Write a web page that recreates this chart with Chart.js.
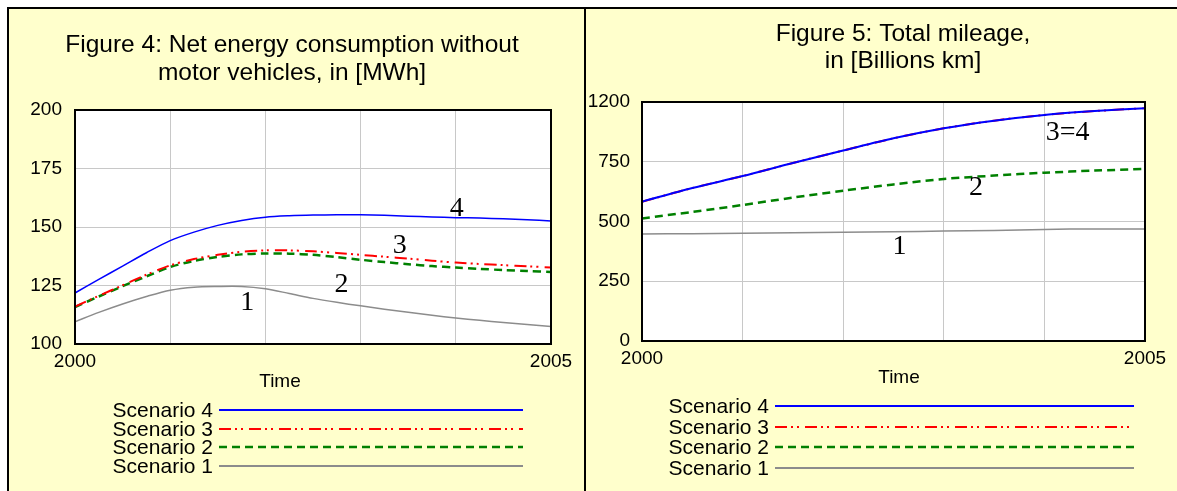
<!DOCTYPE html>
<html>
<head>
<meta charset="utf-8">
<script src="https://cdn.jsdelivr.net/npm/chart.js@4.4.1/dist/chart.umd.min.js"></script>
<style>
  body { margin: 0; width: 1177px; height: 491px; overflow: hidden; position: relative; background: #fff; }
  .panel { position: absolute; top: 7px; height: 484px; box-sizing: border-box; background: #ffffcc;
           border-top: 2px solid #000; border-left: 2px solid #000; }
  #p1 { left: 7px; width: 577px; }
  #p2 { left: 584px; width: 593px; }
  canvas { position: absolute; top: 0; }
  #c1 { left: 0; }
  #c2 { left: 586px; }
</style>
</head>
<body>
<div class="panel" id="p1"></div>
<div class="panel" id="p2"></div>
<canvas id="c1" width="586" height="491"></canvas>
<canvas id="c2" width="591" height="491"></canvas>
<script>
// Figure 4 - net energy consumption (MWh), quarterly readings
const years1 = [2000, 2000.25, 2000.5, 2000.75, 2001, 2001.25, 2001.5, 2001.75, 2002, 2002.25, 2002.5,
                2002.75, 2003, 2003.25, 2003.5, 2003.75, 2004, 2004.25, 2004.5, 2004.75, 2005];
const energyS4 = [121.8, 127.6, 133.3, 139, 144.2, 147.8, 150.7, 152.8, 154.2, 154.8, 155.1,
                  155.2, 155.2, 155, 154.6, 154.3, 154.0, 153.8, 153.5, 153.1, 152.6];
const energyS3 = [116, 120.6, 125.1, 129.6, 133.6, 136.3, 138.1, 139.4, 140, 140, 139.6,
                  138.9, 138.1, 137.3, 136.5, 135.6, 134.8, 134.2, 133.7, 133.2, 132.7];
const energyS2 = [115.8, 120.3, 124.7, 128.9, 132.9, 135.5, 137.2, 138.3, 138.7, 138.6, 138.1,
                  137.1, 136, 135, 134.1, 133.3, 132.7, 132.1, 131.6, 131.2, 130.8];
const energyS1 = [109.5, 113.5, 117.1, 120.3, 123, 124.3, 124.6, 124.6, 123.6, 121.6, 119.5,
                  117.8, 116.3, 114.9, 113.6, 112.3, 111.1, 110.1, 109.2, 108.3, 107.5];

// Figure 5 - total mileage (billions km), half-year readings
const years2 = [2000, 2000.5, 2001, 2001.5, 2002, 2002.5, 2003, 2003.5, 2004, 2004.5, 2005];
const mileS4 = [583, 640, 690, 745, 797, 848, 890, 922, 946, 962, 974];
const mileS3 = [583, 640, 690, 745, 797, 848, 890, 922, 946, 962, 974];
const mileS2 = [513, 540, 569, 600, 629, 655, 678, 692, 704, 713, 720];
const mileS1 = [448, 449, 451, 453, 455, 457, 460, 462, 467, 469, 469];

const seriesNames = ['Scenario 4', 'Scenario 3', 'Scenario 2', 'Scenario 1'];

const xTickValues = [2000, 2001, 2002, 2003, 2004, 2005];
const xTickLabels = ['2000', '', '', '', '', '2005'];
const yTickValues1 = [100, 125, 150, 175, 200];
const yTickLabels1 = ['100', '125', '150', '175', '200'];
const yTickValues2 = [0, 250, 500, 750, 1000];
const yTickLabels2 = ['0', '250', '500', '750', '1200'];

const title1 = ['Figure 4: Net energy consumption without', 'motor vehicles, in [MWh]'];
const title2 = ['Figure 5: Total mileage,', 'in [Billions km]'];

// curve numbers written on the plot (data units)
const notes1 = [
  { text: '1', x: 2001.81, y: 117.5 },
  { text: '2', x: 2002.80, y: 125.2 },
  { text: '3', x: 2003.41, y: 141.9 },
  { text: '4', x: 2004.01, y: 157.7 }
];
const notes2 = [
  { text: '3=4', x: 2004.23, y: 870 },
  { text: '2', x: 2003.32, y: 640 },
  { text: '1', x: 2002.56, y: 393 }
];

const SANS = '"Liberation Sans", Arial, sans-serif';
const SERIF = '"Liberation Serif", "Times New Roman", serif';
const dashRed = [12, 4, 2, 4, 2, 6];
const dashGreen = [8, 5];

function pts(xs, ys) {
  return xs.map((x, i) => ({ x: x, y: ys[i] }));
}

function makeSets(xs, s4, s3, s2, s1, w4) {
  return [
    { label: seriesNames[0], data: pts(xs, s4), borderColor: '#0000ff', borderWidth: w4 },
    { label: seriesNames[1], data: pts(xs, s3), borderColor: '#ff0000', borderWidth: 2, borderDash: dashRed },
    { label: seriesNames[2], data: pts(xs, s2), borderColor: '#008000', borderWidth: 2.5, borderDash: dashGreen },
    { label: seriesNames[3], data: pts(xs, s1), borderColor: '#8c8c8c', borderWidth: 1.5 }
  ];
}

// white plot area, black frame, titles, curve numbers and the line legend
const panelText = {
  id: 'panelText',
  beforeDraw(chart) {
    const a = chart.chartArea, ctx = chart.ctx;
    ctx.save();
    ctx.fillStyle = '#ffffff';
    ctx.fillRect(a.left, a.top, a.width, a.height);
    ctx.restore();
  },
  afterDraw(chart, args, o) {
    const a = chart.chartArea, ctx = chart.ctx;
    const xs = chart.scales.x, ys = chart.scales.y;
    ctx.save();
    ctx.strokeStyle = '#000';
    ctx.lineWidth = 2;
    ctx.strokeRect(a.left, a.top, a.width, a.height);

    ctx.fillStyle = '#000';
    ctx.textAlign = 'center';
    ctx.textBaseline = 'middle';
    ctx.font = '24.5px ' + SANS;
    o.title.forEach((t, i) => ctx.fillText(t, o.titleX, o.titleY + i * o.titleGap));

    ctx.font = '19px ' + SANS;
    ctx.fillText('Time', o.timeX, o.timeY);

    ctx.font = '28px ' + SERIF;
    o.notes.forEach(n => ctx.fillText(n.text, xs.getPixelForValue(n.x), ys.getPixelForValue(n.y)));

    ctx.font = '21px ' + SANS;
    ctx.textAlign = 'right';
    chart.data.datasets.forEach((ds, i) => {
      const y = o.rows[i];
      ctx.fillStyle = '#000';
      ctx.fillText(ds.label, o.textRight, y + 1);
      ctx.beginPath();
      ctx.strokeStyle = ds.borderColor;
      ctx.lineWidth = Math.max(ds.borderWidth, 2);
      ctx.setLineDash(ds.borderDash || []);
      ctx.moveTo(o.lineFrom, y);
      ctx.lineTo(o.lineTo, y);
      ctx.stroke();
    });
    ctx.restore();
  }
};

function makeChart(id, sets, yMin, yMax, yVals, yLabs, area, text) {
  return new Chart(document.getElementById(id), {
    type: 'line',
    data: { datasets: sets },
    plugins: [panelText],
    options: {
      responsive: false,
      animation: false,
      devicePixelRatio: 1,
      layout: { padding: area.padding },
      elements: {
        line: { tension: 0.3, fill: false },
        point: { radius: 0 }
      },
      scales: {
        x: {
          type: 'linear', min: 2000, max: 2005,
          afterBuildTicks: s => { s.ticks = xTickValues.map(v => ({ value: v })); },
          afterFit: s => { s.height = 30; },
          grid: { color: '#c8c8c8', lineWidth: 1, drawTicks: false },
          border: { display: false },
          ticks: {
            autoSkip: false, maxRotation: 0, padding: 6,
            color: '#000', font: { family: SANS, size: 19 },
            callback: v => xTickLabels[xTickValues.indexOf(v)] ?? ''
          }
        },
        y: {
          min: yMin, max: yMax,
          afterBuildTicks: s => { s.ticks = yVals.map(v => ({ value: v })); },
          afterFit: s => { s.width = area.yWidth; },
          grid: { color: '#c8c8c8', lineWidth: 1, drawTicks: false },
          border: { display: false },
          ticks: {
            padding: area.tickPad,
            color: '#000', font: { family: SANS, size: 19 },
            callback: v => yLabs[yVals.indexOf(v)] ?? ''
          }
        }
      },
      plugins: {
        legend: { display: false },
        tooltip: { enabled: false },
        panelText: text
      }
    }
  });
}

makeChart('c1', makeSets(years1, energyS4, energyS3, energyS2, energyS1, 1.5),
  100, 200, yTickValues1, yTickLabels1,
  { padding: { left: 0, right: 35, top: 110, bottom: 117 }, yWidth: 75, tickPad: 13 },
  { title: title1, titleX: 292, titleY: 45, titleGap: 28, timeX: 280, timeY: 382, notes: notes1,
    rows: [410, 429, 447, 466], textRight: 213, lineFrom: 219, lineTo: 523 });

makeChart('c2', makeSets(years2, mileS4, mileS3, mileS2, mileS1, 2),
  0, 1000, yTickValues2, yTickLabels2,
  { padding: { left: 0, right: 32, top: 102, bottom: 120 }, yWidth: 56, tickPad: 12 },
  { title: title2, titleX: 317, titleY: 34, titleGap: 27, timeX: 313, timeY: 378, notes: notes2,
    rows: [406, 427, 447, 468], textRight: 183, lineFrom: 189, lineTo: 548 });
</script>
</body>
</html>
